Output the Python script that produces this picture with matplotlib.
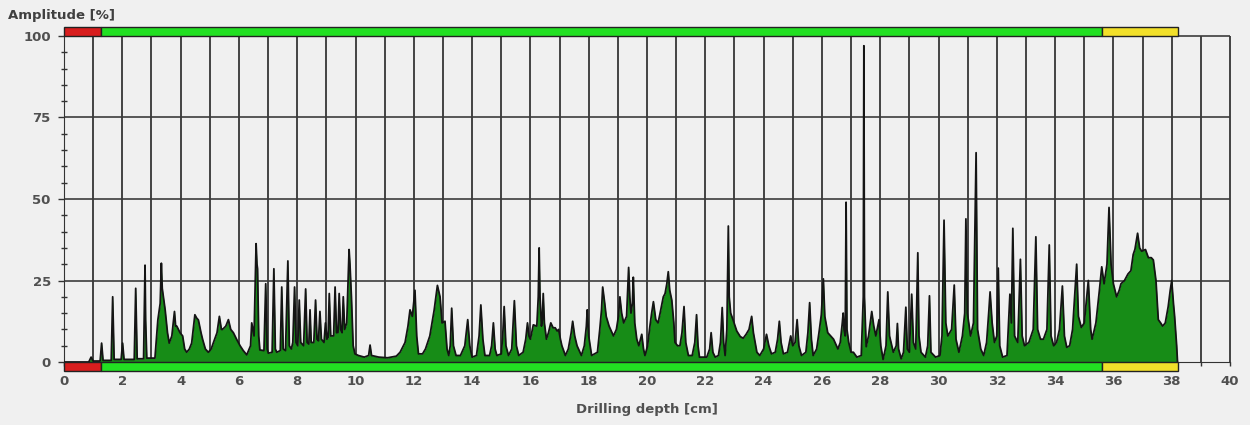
import matplotlib.pyplot as plt
from matplotlib.patches import Rectangle
from matplotlib.ticker import MultipleLocator

# drilling profile (depth in cm, amplitude in %)
depth_cm = [
    0.00, 0.85, 0.93, 1.00, 1.24, 1.29, 1.34, 1.62, 1.67, 1.72,
    1.96, 2.01, 2.06, 2.41, 2.46, 2.51, 2.73, 2.78, 2.80, 2.84,
    3.12, 3.22, 3.30, 3.34, 3.37, 3.47, 3.55, 3.61, 3.70, 3.79,
    3.83, 3.87, 3.98, 4.07, 4.14, 4.21, 4.30, 4.38, 4.49, 4.55,
    4.61, 4.70, 4.76, 4.85, 4.95, 5.05, 5.12, 5.25, 5.33, 5.40,
    5.44, 5.55, 5.64, 5.72, 5.81, 5.92, 6.04, 6.15, 6.27, 6.40,
    6.44, 6.52, 6.59, 6.62, 6.64, 6.68, 6.72, 6.86, 6.92, 6.97,
    7.01, 7.14, 7.20, 7.25, 7.30, 7.42, 7.47, 7.52, 7.60, 7.68,
    7.73, 7.80, 7.85, 7.91, 7.96, 8.02, 8.07, 8.12, 8.22, 8.29,
    8.34, 8.40, 8.44, 8.48, 8.57, 8.63, 8.68, 8.73, 8.78, 8.83,
    8.92, 8.97, 9.02, 9.06, 9.10, 9.15, 9.25, 9.30, 9.35, 9.40,
    9.44, 9.49, 9.54, 9.58, 9.63, 9.70, 9.78, 9.81, 9.86, 9.92,
    9.98, 10.10, 10.30, 10.45, 10.50, 10.55, 10.80, 11.10, 11.40, 11.53,
    11.70, 11.80, 11.87, 11.95, 12.04, 12.10, 12.16, 12.30, 12.40, 12.55,
    12.70, 12.81, 12.90, 12.97, 13.07, 13.14, 13.20, 13.25, 13.30, 13.36,
    13.45, 13.60, 13.75, 13.85, 13.92, 14.00, 14.15, 14.24, 14.30, 14.37,
    14.44, 14.60, 14.67, 14.73, 14.79, 14.85, 15.00, 15.05, 15.10, 15.16,
    15.25, 15.36, 15.45, 15.52, 15.60, 15.75, 15.84, 15.90, 15.95, 16.00,
    16.10, 16.22, 16.27, 16.30, 16.33, 16.38, 16.41, 16.44, 16.48, 16.55,
    16.62, 16.70, 16.78, 16.85, 16.92, 16.97, 17.03, 17.08, 17.20, 17.30,
    17.40, 17.45, 17.52, 17.60, 17.75, 17.85, 17.92, 17.95, 18.00, 18.10,
    18.30, 18.38, 18.44, 18.48, 18.55, 18.60, 18.70, 18.85, 18.95, 19.02,
    19.07, 19.13, 19.20, 19.30, 19.37, 19.41, 19.45, 19.50, 19.53, 19.58,
    19.65, 19.72, 19.82, 19.88, 19.93, 20.02, 20.10, 20.16, 20.22, 20.30,
    20.38, 20.45, 20.56, 20.62, 20.68, 20.73, 20.78, 20.85, 20.92, 20.96,
    21.05, 21.13, 21.20, 21.27, 21.33, 21.42, 21.55, 21.64, 21.70, 21.75,
    21.80, 22.05, 22.15, 22.20, 22.26, 22.34, 22.45, 22.52, 22.58, 22.63,
    22.68, 22.74, 22.79, 22.82, 22.87, 22.95, 23.08, 23.20, 23.30, 23.40,
    23.50, 23.59, 23.65, 23.77, 23.87, 24.00, 24.10, 24.18, 24.27, 24.40,
    24.48, 24.54, 24.60, 24.68, 24.82, 24.93, 25.00, 25.08, 25.15, 25.21,
    25.30, 25.45, 25.52, 25.58, 25.64, 25.70, 25.82, 25.90, 25.98, 26.05,
    26.10, 26.20, 26.30, 26.40, 26.55, 26.63, 26.70, 26.73, 26.76, 26.80,
    26.83, 26.86, 26.92, 27.00, 27.08, 27.20, 27.35, 27.42, 27.44, 27.46,
    27.52, 27.60, 27.66, 27.71, 27.78, 27.85, 27.96, 28.02, 28.10, 28.20,
    28.26, 28.32, 28.45, 28.55, 28.59, 28.63, 28.72, 28.80, 28.88, 28.93,
    29.00, 29.08, 29.14, 29.22, 29.29, 29.33, 29.40, 29.55, 29.63, 29.69,
    29.74, 29.90, 30.05, 30.12, 30.19, 30.25, 30.32, 30.45, 30.54, 30.60,
    30.70, 30.82, 30.90, 30.94, 30.99, 31.10, 31.20, 31.29, 31.34, 31.45,
    31.55, 31.65, 31.73, 31.77, 31.84, 31.92, 32.00, 32.05, 32.10, 32.20,
    32.35, 32.45, 32.50, 32.55, 32.61, 32.72, 32.81, 32.87, 32.95, 33.10,
    33.25, 33.34, 33.40, 33.50, 33.60, 33.72, 33.80, 33.86, 33.95, 34.05,
    34.15, 34.25, 34.32, 34.40, 34.50, 34.60, 34.74, 34.80, 34.90, 35.00,
    35.14, 35.22, 35.27, 35.40, 35.52, 35.60, 35.68, 35.78, 35.85, 35.92,
    36.00, 36.11, 36.20, 36.26, 36.38, 36.50, 36.60, 36.68, 36.74, 36.83,
    36.90, 36.97, 37.10, 37.20, 37.30, 37.37, 37.46, 37.54, 37.62, 37.69,
    37.78, 37.88, 37.95, 38.00, 38.06, 38.10, 38.17, 38.20,
]
amplitude_pct = [
    0.0, 0.0, 1.5, 0.3, 0.3, 5.8, 0.5, 0.5, 20.0, 0.8,
    0.8, 5.8, 0.8, 0.8, 22.6, 1.0, 1.0, 29.7, 12.9, 1.2,
    1.2, 12.9, 18.0, 30.3, 22.6, 16.0, 9.0, 5.8, 8.0, 15.5,
    11.0, 11.0, 9.0, 8.0, 4.0, 3.0, 4.0, 5.8, 14.5, 13.5,
    12.9, 9.0, 6.8, 4.0, 3.0, 4.0, 5.8, 9.0, 14.0, 10.0,
    10.0, 11.0, 13.0, 10.0, 9.0, 7.0, 5.0, 3.5, 2.2, 5.0,
    12.0, 8.0, 36.3, 30.0, 28.6, 8.0, 3.7, 3.5, 24.0, 4.0,
    2.7, 3.0, 28.6, 4.0, 3.0, 3.5, 23.0, 4.0, 3.5, 31.0,
    5.0, 4.0, 6.0, 23.0, 6.0, 5.0, 19.0, 6.0, 5.0, 22.4,
    6.0, 5.5, 16.0, 6.0, 6.0, 19.0, 7.0, 6.5, 15.5, 7.0,
    6.0, 12.0, 7.0, 7.5, 21.0, 8.0, 8.0, 23.0, 9.0, 9.0,
    21.0, 10.0, 9.0, 20.0, 10.0, 12.0, 34.5, 30.0, 20.0, 5.0,
    2.5, 2.0, 1.5, 2.0, 5.2, 2.0, 1.5, 1.3, 1.8, 3.0,
    6.0, 11.0, 16.0, 14.0, 22.0, 8.0, 2.5, 2.5, 4.0, 8.0,
    16.0, 23.5, 20.0, 12.0, 12.5, 4.0, 2.0, 5.0, 16.5, 5.0,
    2.0, 2.0, 5.0, 13.0, 5.0, 1.5, 2.0, 8.0, 17.5, 7.0,
    2.0, 2.0, 5.0, 12.0, 4.0, 2.0, 2.5, 8.0, 17.0, 5.0,
    2.0, 4.0, 18.8, 5.0, 2.0, 3.0, 7.0, 12.0, 8.0, 7.0,
    11.4, 11.0, 20.0, 35.0, 20.0, 11.0, 13.0, 21.0, 12.0, 7.0,
    9.0, 12.0, 10.5, 10.5, 9.5, 10.0, 7.0, 5.0, 2.0, 4.0,
    9.0, 12.5, 8.0, 5.0, 2.0, 5.0, 11.0, 16.0, 8.0, 2.0,
    3.0, 10.0, 16.0, 23.0, 18.0, 14.0, 11.0, 8.0, 10.0, 14.0,
    20.0, 15.0, 12.0, 14.0, 29.0, 20.0, 15.0, 18.0, 26.0, 12.0,
    7.0, 5.0, 8.5, 4.0, 2.0, 5.0, 11.0, 15.0, 18.5, 13.0,
    12.0, 15.0, 20.0, 21.0, 24.0, 27.7, 22.0, 19.0, 12.0, 6.0,
    5.0, 5.0, 9.0, 17.0, 6.0, 2.0, 2.0, 6.0, 14.5, 5.0,
    1.5, 1.5, 4.0, 9.0, 3.0, 1.5, 2.0, 6.0, 16.7, 6.0,
    2.0, 10.0, 41.7, 20.0, 15.0, 13.0, 9.5, 7.8, 7.3, 8.5,
    10.0, 14.0, 9.0, 3.0, 2.0, 4.0, 8.5, 5.0, 2.5, 3.0,
    7.0, 12.5, 6.0, 2.5, 3.0, 8.0, 5.0, 6.0, 13.0, 5.0,
    2.0, 3.0, 9.0, 18.2, 7.0, 2.0, 4.0, 9.0, 14.5, 25.5,
    14.0, 9.0, 8.0, 7.0, 4.0, 6.0, 12.0, 15.0, 10.0, 8.0,
    49.0, 10.0, 6.0, 3.0, 3.0, 1.5, 2.0, 20.0, 97.0, 20.0,
    4.7, 8.0, 12.0, 15.5, 11.0, 8.0, 13.0, 5.0, 0.8, 5.0,
    21.5, 8.0, 3.0, 5.0, 11.8, 4.0, 1.0, 3.0, 16.8, 4.0,
    3.0, 20.8, 6.0, 4.0, 33.5, 8.0, 3.0, 1.5, 5.0, 20.3,
    3.0, 1.5, 2.0, 8.0, 43.5, 12.0, 8.0, 10.0, 23.6, 7.0,
    3.0, 8.0, 15.0, 43.9, 15.0, 8.0, 12.0, 64.2, 10.0, 4.0,
    2.0, 6.0, 16.0, 21.5, 12.0, 6.0, 8.0, 28.8, 5.0, 1.5,
    2.0, 20.8, 12.0, 41.0, 8.0, 6.0, 31.5, 8.0, 5.0, 6.0,
    10.0, 38.4, 10.0, 7.0, 7.0, 10.0, 35.9, 8.0, 5.0, 6.0,
    10.0, 23.3, 8.0, 4.5, 5.0, 10.0, 30.0, 14.0, 10.6, 12.0,
    25.0, 10.0, 7.0, 12.0, 22.0, 29.2, 24.0, 30.0, 47.4, 30.0,
    24.0, 20.0, 22.0, 24.0, 25.0, 27.0, 28.0, 33.0, 34.6, 39.5,
    35.0, 34.0, 34.5, 32.0, 32.0, 31.3, 25.0, 13.0, 12.0, 11.0,
    12.0, 17.0, 22.0, 25.0, 18.0, 14.0, 5.0, 0.0,
]

# colour zones of the quality bars (start/end depth in cm)
zone_start = [0.0, 1.26, 35.6]
zone_end = [1.26, 35.6, 38.2]
zone_colors = ["#d81e1e", "#22e022", "#f2e02a"]

y_ticks = [0, 25, 50, 75, 100]
x_ticks = list(range(0, 41, 2))

BG = "#f0f0f0"
TXT = "#505050"

plt.rcParams.update({"font.family": "DejaVu Sans", "font.weight": "bold"})

fig = plt.figure(figsize=(12.5, 4.25), dpi=100, facecolor=BG)
ax = fig.add_axes([64 / 1250, 1 - 370.5 / 425, 1166 / 1250, 344.3 / 425])
ax.set_facecolor(BG)
ax.set_xlim(0, 40)
ax.set_ylim(-2.6, 103)

# grid
ax.vlines(range(1, 41), 0, 100, colors="#262626", lw=1.2, zorder=1, clip_on=False)
ax.hlines([25, 50, 75, 100], 0, 40, colors="#3c3c3c", lw=1.2, zorder=1, clip_on=False)

# profile
ax.fill_between(depth_cm, 0, amplitude_pct, color="#178c17", lw=0, zorder=2)
ax.plot(depth_cm, amplitude_pct, color="#141414", lw=1.3, zorder=3)

# quality bars at top and bottom
for x0, x1, c in zip(zone_start, zone_end, zone_colors):
    ax.add_patch(Rectangle((x0, 100), x1 - x0, 2.8, fc=c, ec="#222222", lw=1,
                           zorder=5, clip_on=False))
    ax.add_patch(Rectangle((x0, -2.6), x1 - x0, 2.6, fc=c, ec="#222222", lw=1,
                           zorder=5, clip_on=False))

ax.spines[["top", "right"]].set_visible(False)
ax.spines["left"].set_bounds(0, 100)
ax.spines["left"].set_color("#333333")
ax.spines["bottom"].set_position(("data", 0))
ax.spines["bottom"].set_color("#333333")

ax.set_yticks(y_ticks)
ax.yaxis.set_minor_locator(MultipleLocator(5))
ax.tick_params(axis="y", which="major", length=4.5, width=1, color="#333333",
               labelsize=9.5, labelcolor=TXT, pad=5)
ax.tick_params(axis="y", which="minor", direction="inout", length=4, width=1,
               color="#333333")

ax.set_xticks(x_ticks)
ax.xaxis.set_minor_locator(MultipleLocator(1))
ax.tick_params(axis="x", which="both", length=3, width=1, color="#333333",
               labelsize=9.5, labelcolor=TXT, pad=6)

fig.text(8 / 1250, 1 - 15 / 425, "Amplitude [%]", ha="left", va="center",
         fontsize=9.5, fontweight="bold", color="#404040")
fig.text(647 / 1250, 1 - 410 / 425, "Drilling depth [cm]", ha="center", va="center",
         fontsize=9.5, fontweight="bold", color=TXT)

fig.savefig("out.png", dpi=100, facecolor=BG)
